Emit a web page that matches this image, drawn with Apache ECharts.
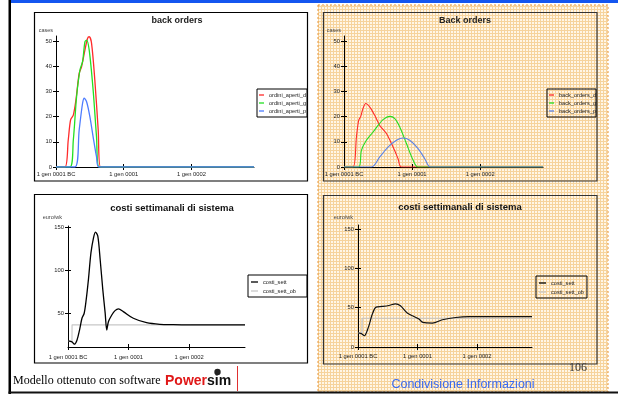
<!DOCTYPE html>
<html>
<head>
<meta charset="utf-8">
<script src="https://cdn.jsdelivr.net/npm/echarts@6/dist/echarts.min.js"></script>
<style>
html, body { margin: 0; padding: 0; background: #fff; }
#main { width: 618px; height: 394px; }
</style>
</head>
<body>
<div id="main"></div>
<script>
// x = settimane dall'inizio della simulazione, y = valori
const yearTicks = [0, 52, 104]
const yearLabels = ['1 gen 0001 BC', '1 gen 0001', '1 gen 0002']
const weeksMax = 152
const casesTicks = [0, 10, 20, 30, 40, 50]
const costTicksL = [50, 100, 150]
const costTicksR = [0, 50, 100, 150]

// back orders (modello senza condivisione)
const ordiniD = [[0,0],[6.9,0],[9.4,10.7],[11.2,18.7],[13.3,20.6],[15.3,26.6],[17.8,37.2],[19.6,39.8],[22.2,46.4],[24.2,51],[25.5,51.7],[27.3,49.1],[29.8,34.5],[32.4,14.7],[34.2,0],[152,0]]
const ordiniG = [[0,0],[10.7,0],[13.3,10.7],[15.8,27.9],[18.4,38.5],[20.4,41.8],[22.2,49.7],[23.5,50.4],[25.5,46.4],[28.5,30.6],[31.1,12],[33.1,0],[152,0]]
const ordiniP = [[0,0],[14.5,0],[17.8,14.7],[20.4,25.3],[21.7,27.3],[23.5,25.9],[26,20],[28.5,12],[31.1,4.1],[32.9,0],[152,0]]

// Back orders (condivisione informazioni)
const backD = [[0,0],[6.9,0],[9.5,11.9],[11.2,18.5],[12.8,20.1],[14.5,23.2],[16.6,25.2],[19.7,23.8],[23.5,20.5],[27.3,16.5],[32.4,13.3],[37.5,7.9],[41.3,3.3],[43.9,0],[152,0]]
const backG = [[0,0],[11.2,0],[13.3,6.6],[17.1,10.6],[22.2,13.9],[26,16.5],[29.8,18.8],[35,20.1],[38.8,19.2],[42.6,15.9],[47.7,9.3],[52.8,2.7],[56.6,0],[152,0]]
const backP = [[0,0],[21,0],[27.3,4],[33.6,7.9],[40.1,10.6],[45.1,11.5],[50.2,10.6],[56.6,7.3],[61.7,3.3],[66.1,0],[152,0]]

// costi settimanali di sistema
const costiSettL = [[0,17.2],[3.4,16.1],[5.4,13.3],[7.7,18],[9.9,29.9],[12,43.7],[13.9,49.6],[15.6,65.3],[17.6,90],[19.7,120.4],[21.9,138.1],[23.6,144.8],[25.6,140],[27.6,113],[29.9,77.1],[31.9,50],[33.3,29.9],[34.7,39.7],[37.6,47.6],[40.4,52.7],[43.3,54.7],[47.5,51.5],[56.1,43.7],[67.5,38.5],[78.9,36.6],[90.3,36.2],[105,36],[152,36]]
const costiObL = [[0,17],[3.4,17],[3.5,36],[152,36]]
const costiSettR = [[0,18],[2.9,17],[5.5,14.3],[9.3,26.1],[12.3,40.9],[15.8,50.7],[21.1,51.5],[26.9,52.7],[32.8,54.9],[37.1,52.3],[43,43.1],[48.8,38.8],[53.2,35.5],[56.7,31.2],[65,30.4],[73.8,34.6],[85.4,37.5],[97.1,38.5],[152,38.5]]
const costiObR = [[0,18],[3.5,18],[3.6,36.5],[152,36.5]]

const FONT = 'Liberation Sans'

// pattern arancione del pannello di destra
const tile = document.createElement('canvas')
tile.width = 3
tile.height = 3
const tg = tile.getContext('2d')
tg.fillStyle = '#fff6e6'
tg.fillRect(0, 0, 3, 3)
tg.fillStyle = '#f6d39c'
tg.fillRect(0, 0, 3, 1)
tg.fillRect(0, 0, 1, 3)

function xAxes(gridIndex, margin) {
  const base = { type: 'value', gridIndex, min: 0, max: weeksMax, position: 'bottom', splitLine: { show: false } }
  return [
    { ...base,
      axisLine: { lineStyle: { color: '#000', width: 1 } },
      axisTick: { customValues: yearTicks, length: 3, lineStyle: { color: '#000' } },
      axisLabel: { customValues: yearTicks, formatter: v => yearLabels[yearTicks.indexOf(v)], fontSize: 5.8, color: '#222', margin, fontFamily: FONT } },
    { ...base,
      axisLine: { show: false },
      axisTick: { customValues: yearTicks, inside: true, length: 3, lineStyle: { color: '#000' } },
      axisLabel: { show: false } }
  ]
}

function yAxes(gridIndex, min, max, ticks, name, nameGap, namePad) {
  const base = { type: 'value', gridIndex, min, max, position: 'left', splitLine: { show: false } }
  return [
    { ...base, name, nameLocation: 'end', nameGap,
      nameTextStyle: { fontSize: 5.5, color: '#444', align: 'right', padding: [0, namePad, 0, 0], fontFamily: FONT },
      axisLine: { lineStyle: { color: '#000', width: 1 } },
      axisTick: { customValues: ticks, length: 3, lineStyle: { color: '#000' } },
      axisLabel: { customValues: ticks, fontSize: 5.8, color: '#222', margin: 4, fontFamily: FONT } },
    { ...base,
      axisLine: { show: false },
      axisTick: { customValues: ticks, inside: true, length: 3, lineStyle: { color: '#000' } },
      axisLabel: { show: false } }
  ]
}

function line(name, data, axis, color, width, smooth) {
  return {
    type: 'line', name, data, xAxisIndex: axis, yAxisIndex: axis,
    symbol: 'none', smooth, animation: false,
    lineStyle: { color, width }, itemStyle: { color }
  }
}

// la legenda originale taglia i nomi lunghi sul bordo del riquadro
function legend(left, top, names, visibleChars, pad, gap, iconW, bg) {
  return {
    orient: 'vertical', left, top, data: names, selectedMode: false,
    borderColor: '#000', borderWidth: 1, backgroundColor: bg, padding: pad,
    icon: 'rect', itemWidth: iconW, itemHeight: 1.3, itemGap: gap,
    formatter: name => name.slice(0, visibleChars),
    textStyle: { fontSize: 5.6, lineHeight: 6, color: '#222', fontFamily: FONT }
  }
}

function text(t, x, y, font, fill, align) {
  return { type: 'text', style: { text: t, x, y, font, fill, textAlign: align || 'center', textVerticalAlign: 'middle' } }
}

const chart = echarts.init(document.getElementById('main'))

chart.setOption({
  animation: false,
  grid: [
    { left: 56, top: 36, width: 198, height: 131 },
    { left: 344, top: 36, width: 199, height: 131 },
    { left: 68, top: 226, width: 177, height: 121 },
    { left: 358, top: 225, width: 174, height: 122 }
  ],
  xAxis: [...xAxes(0, 4), ...xAxes(1, 4), ...xAxes(2, 7), ...xAxes(3, 6)],
  yAxis: [
    ...yAxes(0, 0, 52, casesTicks, 'cases', 3, 3),
    ...yAxes(1, 0, 52, casesTicks, 'cases', 3, 3),
    ...yAxes(2, 10, 152, costTicksL, 'euro/wk', 6, 6),
    ...yAxes(3, 0, 155, costTicksR, 'euro/wk', 5, 5)
  ],
  legend: [
    legend(257, 89, ['ordini_aperti_dettaglianti', 'ordini_aperti_grossisti', 'ordini_aperti_produttori'], 15, [3, 1, 3, 2], 2, 5, '#fff'),
    legend(547, 89, ['back_orders_dettaglianti', 'back_orders_grossisti', 'back_orders_produttori'], 13, [3, 0, 3, 2], 2, 5, 'transparent'),
    legend(248, 275, ['costi_sett', 'costi_sett_ob'], 20, [4, 11, 3, 3], 3, 7, '#fff'),
    legend(536, 276, ['costi_sett', 'costi_sett_ob'], 20, [4, 3, 3, 3], 3, 7, 'transparent')
  ],
  series: [
    line('ordini_aperti_dettaglianti', ordiniD, 0, '#ff2a2a', 1.3, 0.3),
    line('ordini_aperti_grossisti', ordiniG, 0, '#22e022', 1.3, 0.3),
    line('ordini_aperti_produttori', ordiniP, 0, '#4d7cff', 1.3, 0.3),
    line('back_orders_dettaglianti', backD, 2, '#ff2a2a', 1.1, 0.3),
    line('back_orders_grossisti', backG, 2, '#22dd22', 1.1, 0.3),
    line('back_orders_produttori', backP, 2, '#5a82e6', 1.1, 0.3),
    line('costi_sett_ob', costiObL, 4, '#c8c8c8', 1.2, false),
    line('costi_sett', costiSettL, 4, '#000', 1.3, 0.3),
    line('costi_sett_ob', costiObR, 6, '#c4c4c4', 1.2, false),
    line('costi_sett', costiSettR, 6, '#111', 1.2, 0.3)
  ],
  graphic: { elements: [
    { type: 'rect', z: -10, shape: { x: 318, y: 5, width: 290, height: 387 },
      style: { fill: { image: tile, repeat: 'repeat' }, stroke: '#e8963a', lineWidth: 1, lineDash: [2, 2] } },
    { type: 'rect', z: -5, shape: { x: 10, y: 0, width: 608, height: 3 }, style: { fill: '#1456f0' } },
    { type: 'rect', z: -5, shape: { x: 8.5, y: 0, width: 2.5, height: 394 }, style: { fill: '#000' } },
    { type: 'rect', z: -5, shape: { x: 8.5, y: 391.5, width: 610, height: 2 }, style: { fill: '#111' } },
    // cornici dei grafici
    { type: 'rect', z: -4, shape: { x: 34.5, y: 12.5, width: 273, height: 168.5 }, style: { fill: 'none', stroke: '#000', lineWidth: 1.2 } },
    { type: 'rect', z: -4, shape: { x: 323.5, y: 12.5, width: 273.5, height: 168.5 }, style: { fill: 'none', stroke: '#333', lineWidth: 1.2 } },
    { type: 'rect', z: -4, shape: { x: 34.5, y: 194.5, width: 273, height: 168.5 }, style: { fill: 'none', stroke: '#000', lineWidth: 1.2 } },
    { type: 'rect', z: -4, shape: { x: 323.5, y: 195.5, width: 273.5, height: 168.5 }, style: { fill: 'none', stroke: '#333', lineWidth: 1.2 } },
    text('back orders', 177, 21, 'bold 9px ' + FONT, '#222'),
    text('Back orders', 465, 21, 'bold 9px ' + FONT, '#222'),
    text('costi settimanali di sistema', 172, 208, 'bold 9.5px ' + FONT, '#111'),
    text('costi settimanali di sistema', 460, 207, 'bold 9.5px ' + FONT, '#111'),
    text('Modello ottenuto con software', 13, 381, '12px Liberation Serif', '#000', 'left'),
    { type: 'text', style: {
      text: '{a|Power}{b|sim}', x: 165, y: 381, textAlign: 'left', textVerticalAlign: 'middle',
      rich: { a: { fill: '#e01818', font: 'bold 14px ' + FONT }, b: { fill: '#111', font: 'bold 14px ' + FONT } } } },
    { type: 'circle', shape: { cx: 217.5, cy: 372, r: 3.2 }, style: { fill: '#222' } },
    { type: 'line', shape: { x1: 237.5, y1: 366, x2: 237.5, y2: 391 }, style: { stroke: '#e03030', lineWidth: 1 } },
    text('106', 578, 368, '12px Liberation Serif', '#333'),
    text('Condivisione Informazioni', 463, 385, '12.5px ' + FONT, '#3a6af0')
  ] }
})
</script>
</body>
</html>
